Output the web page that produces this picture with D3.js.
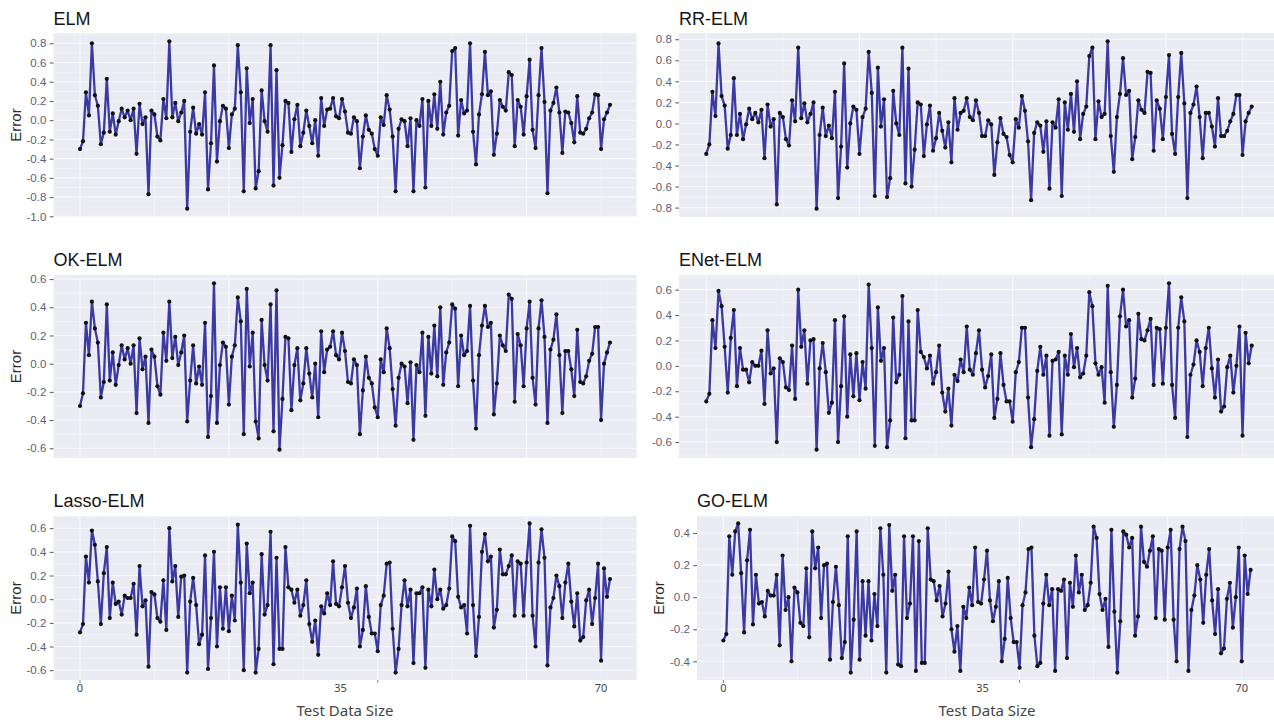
<!DOCTYPE html>
<html>
<head>
<meta charset="utf-8">
<script src="https://d3js.org/d3.v7.min.js"></script>
<style>
  body { margin: 0; background: #fff; }
  text { font-family: "Liberation Sans", Arial, sans-serif; }
</style>
</head>
<body>
<div id="my_dataviz"></div>
<script>
// one panel per model
var models = ["ELM", "RR-ELM", "OK-ELM", "ENet-ELM", "Lasso-ELM", "GO-ELM"];

// test errors (179 test samples each)
var elmErr = [
  -0.30, -0.22, 0.29, 0.05, 0.80, 0.26, 0.15, -0.25, -0.13, 0.43,
  -0.12, 0.07, -0.15, -0.01, 0.12, 0.03, 0.10, 0.00, 0.12, -0.35,
  0.17, -0.04, 0.03, -0.77, 0.10, 0.06, -0.17, -0.21, 0.22, 0.02,
  0.82, 0.03, 0.18, -0.01, 0.08, 0.20, -0.92, -0.12, 0.13, -0.14,
  -0.04, -0.15, 0.29, -0.72, -0.24, 0.57, -0.43, -0.01, 0.15, 0.12,
  -0.29, 0.06, 0.12, 0.78, 0.29, -0.74, 0.54, -0.03, 0.22, -0.71,
  -0.53, 0.31, -0.01, -0.12, 0.78, -0.68, 0.52, -0.60, -0.26, 0.20,
  0.18, -0.33, 0.01, 0.16,
  -0.27, -0.13, 0.10, -0.06, -0.24, 0.00, -0.37, 0.23, -0.06, 0.11,
  0.12, 0.23, 0.04, 0.02, 0.22, 0.09, -0.13, -0.14, 0.03, -0.01,
  -0.50, -0.17, 0.05, -0.10, -0.14, -0.30, -0.37, 0.03, -0.05, 0.26,
  0.11, -0.17, -0.74, -0.09, 0.01, -0.01, -0.27, 0.02, -0.74, 0.00,
  -0.06, 0.22, -0.70, 0.20, -0.06, 0.27, -0.09, 0.40, -0.15, 0.08,
  0.15, 0.72, 0.75, -0.16, 0.21, 0.07, 0.10, 0.80, -0.12, -0.46,
  0.06, 0.27, 0.71, 0.26, 0.30, -0.36, -0.14, 0.21, 0.14, 0.10,
  0.50, 0.47, -0.27, 0.21, 0.14, -0.15, 0.25, 0.63, -0.10, -0.29,
  0.26, 0.75, 0.19, -0.76, 0.10, 0.18, 0.34, 0.08, -0.34, 0.09,
  0.08, -0.03, -0.23, 0.25, -0.13, -0.14, -0.09, 0.02, 0.08, 0.27,
  0.26, -0.30, 0.01, 0.08, 0.16
];

var rrElmErr = [
  -0.29, -0.20, 0.30, 0.07, 0.76, 0.26, 0.17, -0.24, -0.11, 0.43,
  -0.11, 0.09, -0.15, -0.01, 0.14, 0.04, 0.10, 0.01, 0.13, -0.33,
  0.18, -0.03, 0.04, -0.77, 0.10, 0.06, -0.15, -0.21, 0.22, 0.02,
  0.72, 0.05, 0.19, 0.01, 0.09, 0.20, -0.81, -0.11, 0.15, -0.12,
  -0.02, -0.14, 0.30, -0.71, -0.22, 0.57, -0.42, 0.00, 0.16, 0.13,
  -0.29, 0.06, 0.14, 0.68, 0.29, -0.69, 0.53, -0.03, 0.23, -0.70,
  -0.52, 0.31, 0.00, -0.11, 0.72, -0.57, 0.52, -0.60, -0.25, 0.20,
  0.18, -0.31, -0.01, 0.17, -0.26, -0.14, 0.10, -0.07, -0.23, 0.01,
  -0.37, 0.24, -0.06, 0.10, 0.12, 0.24, 0.06, 0.03, 0.22, 0.10,
  -0.12, -0.12, 0.03, -0.01, -0.49, -0.18, 0.05, -0.10, -0.13, -0.30,
  -0.37, 0.04, -0.04, 0.26, 0.12, -0.17, -0.73, -0.09, 0.01, -0.02,
  -0.27, 0.02, -0.62, 0.01, -0.04, 0.23, -0.69, 0.20, -0.06, 0.28,
  -0.08, 0.40, -0.15, 0.09, 0.16, 0.64, 0.72, -0.15, 0.21, 0.06,
  0.09, 0.78, -0.12, -0.46, 0.06, 0.28, 0.62, 0.27, 0.31, -0.34,
  -0.13, 0.22, 0.13, 0.10, 0.49, 0.48, -0.26, 0.22, 0.14, -0.15,
  0.25, 0.65, -0.10, -0.29, 0.25, 0.67, 0.19, -0.71, 0.10, 0.18,
  0.35, 0.06, -0.33, 0.10, 0.10, -0.03, -0.22, 0.24, -0.12, -0.12,
  -0.07, 0.02, 0.09, 0.27, 0.27, -0.30, 0.02, 0.10, 0.16
];

var okElmErr = [
  -0.30, -0.21, 0.29, 0.06, 0.44, 0.25, 0.15, -0.24, -0.13, 0.42,
  -0.12, 0.08, -0.15, -0.01, 0.13, 0.03, 0.11, 0.00, 0.13, -0.35,
  0.18, -0.04, 0.05, -0.42, 0.10, 0.05, -0.16, -0.22, 0.22, 0.02,
  0.44, 0.04, 0.19, -0.01, 0.08, 0.20, -0.41, -0.12, 0.13, -0.14,
  -0.02, -0.15, 0.29, -0.52, -0.23, 0.57, -0.42, -0.01, 0.15, 0.12,
  -0.29, 0.05, 0.13, 0.47, 0.30, -0.50, 0.53, -0.02, 0.22, -0.41,
  -0.53, 0.31, -0.01, -0.12, 0.42, -0.48, 0.52, -0.61, -0.25, 0.19,
  0.18, -0.33, -0.01, 0.11,
  -0.26, -0.14, 0.11, -0.07, -0.24, 0.00, -0.38, 0.23, -0.06, 0.10,
  0.12, 0.23, 0.06, 0.03, 0.22, 0.09, -0.13, -0.14, 0.03, -0.01,
  -0.50, -0.19, 0.05, -0.10, -0.14, -0.31, -0.38, 0.03, -0.06, 0.25,
  0.11, -0.18, -0.44, -0.10, 0.00, -0.02, -0.28, 0.01, -0.54, -0.01,
  -0.06, 0.22, -0.37, 0.19, -0.07, 0.27, -0.09, 0.40, -0.15, 0.08,
  0.15, 0.42, 0.39, -0.16, 0.20, 0.06, 0.09, 0.41, -0.12, -0.46,
  0.06, 0.27, 0.41, 0.26, 0.29, -0.36, -0.14, 0.20, 0.13, 0.09,
  0.49, 0.46, -0.27, 0.21, 0.13, -0.16, 0.25, 0.44, -0.10, -0.29,
  0.25, 0.45, 0.19, -0.42, 0.10, 0.17, 0.35, 0.06, -0.35, 0.09,
  0.09, -0.04, -0.23, 0.24, -0.13, -0.14, -0.09, 0.02, 0.07, 0.26,
  0.26, -0.40, 0.00, 0.08, 0.15
];

var enetElmErr = [
  -0.28, -0.22, 0.36, 0.14, 0.59, 0.47, 0.15, -0.21, 0.22, 0.44,
  -0.16, 0.14, -0.03, -0.03, -0.13, 0.03, 0.00, 0.00, 0.12, -0.30,
  0.28, -0.06, -0.02, -0.60, 0.06, 0.03, -0.17, -0.19, 0.16, -0.26,
  0.60, 0.15, 0.28, -0.14, 0.20, 0.21, -0.66, -0.02, 0.18, -0.05,
  -0.37, -0.29, 0.36, -0.60, -0.16, 0.39, -0.40, 0.09, -0.24, 0.10,
  -0.27, 0.03, -0.18, 0.64, 0.14, -0.63, 0.46, 0.04, 0.14, -0.64,
  -0.43, 0.38, -0.13, -0.07, 0.55, -0.57, 0.35, -0.43, -0.43, 0.44,
  0.11, 0.07, -0.02, 0.08, -0.14, -0.05, 0.16, -0.21, -0.36, -0.18,
  -0.47, -0.07, -0.12, 0.05, -0.05, 0.31, -0.03, -0.07, 0.10, 0.28,
  -0.03, -0.17, -0.08, 0.09, -0.41, -0.26, 0.10, -0.15, -0.28, -0.28,
  -0.44, -0.05, 0.03, 0.30, 0.30, -0.25, -0.64, -0.42, -0.04, 0.15,
  -0.07, 0.08, -0.55, 0.04, 0.05, 0.11, -0.54, 0.08, -0.07, 0.25,
  -0.01, 0.14, -0.09, -0.06, 0.08, 0.58, 0.47, 0.02, -0.07, -0.01,
  -0.29, 0.63, -0.05, -0.48, -0.15, 0.39, 0.60, 0.31, 0.36, -0.25,
  -0.10, 0.41, 0.21, 0.20, 0.28, 0.37, -0.15, 0.30, 0.29, -0.14,
  0.30, 0.65, -0.15, -0.41, 0.30, 0.54, 0.35, -0.56, -0.07, 0.01,
  0.20, 0.11, -0.16, 0.14, 0.30, -0.02, -0.25, 0.05, -0.36, -0.32,
  -0.01, 0.08, -0.21, 0.00, 0.31, -0.55, 0.26, 0.02, 0.16
];

var lassoElmErr = [
  -0.28, -0.21, 0.36, 0.14, 0.58, 0.46, 0.15, -0.21, 0.22, 0.44,
  -0.16, 0.14, -0.04, -0.02, -0.13, 0.03, 0.01, 0.01, 0.13, -0.30,
  0.28, -0.06, -0.01, -0.57, 0.06, 0.04, -0.16, -0.19, 0.16, -0.26,
  0.60, 0.15, 0.28, -0.15, 0.19, 0.20, -0.62, -0.02, 0.18, -0.05,
  -0.38, -0.30, 0.37, -0.59, -0.16, 0.40, -0.40, 0.10, -0.25, 0.10,
  -0.27, 0.03, -0.18, 0.63, 0.14, -0.60, 0.47, 0.05, 0.14, -0.62,
  -0.42, 0.38, -0.13, -0.05, 0.57, -0.55, 0.35, -0.42, -0.42, 0.44,
  0.10, 0.08, -0.03, 0.08,
  -0.14, -0.05, 0.16, -0.21, -0.36, -0.18, -0.47, -0.06, -0.12, 0.05,
  -0.05, 0.32, -0.04, -0.06, 0.10, 0.28, -0.03, -0.16, -0.07, 0.09,
  -0.40, -0.26, 0.11, -0.15, -0.29, -0.29, -0.44, -0.05, 0.03, 0.30,
  0.31, -0.25, -0.62, -0.42, -0.05, 0.16, -0.06, 0.08, -0.54, 0.05,
  0.05, 0.10, -0.58, 0.08, -0.06, 0.25, 0.00, 0.08, -0.08, -0.05,
  0.09, 0.53, 0.49, 0.02, -0.07, -0.05, -0.29, 0.62, -0.05, -0.48,
  -0.15, 0.40, 0.55, 0.32, 0.36, -0.24, -0.09, 0.42, 0.21, 0.21,
  0.28, 0.37, -0.14, 0.32, 0.30, -0.14, 0.31, 0.64, -0.14, -0.40,
  0.31, 0.59, 0.35, -0.56, -0.07, 0.01, 0.20, 0.11, -0.16, 0.14,
  0.30, -0.02, -0.23, 0.05, -0.35, -0.32, -0.01, 0.08, -0.21, 0.01,
  0.30, -0.52, 0.26, 0.02, 0.17
];

var goElmErr = [
  -0.27, -0.23, 0.38, 0.14, 0.41, 0.46, 0.15, -0.22, 0.23, 0.42,
  -0.17, 0.14, -0.04, -0.03, -0.12, 0.04, 0.01, 0.01, 0.14, -0.30,
  0.26, -0.08, 0.00, -0.40, 0.06, 0.03, -0.16, -0.18, 0.18, -0.25,
  0.41, 0.18, 0.31, -0.13, 0.20, 0.21, -0.39, -0.03, 0.19, -0.05,
  -0.38, -0.28, 0.38, -0.47, -0.14, 0.41, -0.39, 0.10, -0.24, 0.10,
  -0.27, 0.02, -0.18, 0.43, 0.14, -0.47, 0.45, 0.04, 0.14, -0.42,
  -0.43, 0.38, -0.13, -0.04, 0.38, -0.46, 0.35, -0.41, -0.41, 0.43,
  0.11, 0.10, -0.02, 0.07, -0.12, -0.04, 0.16, -0.20, -0.34, -0.18,
  -0.46, -0.06, -0.13, 0.06, -0.05, 0.31, -0.03, -0.04, 0.11, 0.29,
  -0.02, -0.15, -0.06, 0.10, -0.40, -0.26, 0.12, -0.13, -0.28, -0.28,
  -0.44, -0.05, 0.03, 0.30, 0.31, -0.24, -0.43, -0.41, -0.04, 0.14,
  -0.05, 0.05, -0.46, 0.05, 0.04, 0.11, -0.38, 0.09, -0.06, 0.26,
  0.03, 0.14, -0.08, -0.05, 0.09, 0.44, 0.37, 0.02, -0.08, -0.01,
  -0.31, 0.42, -0.09, -0.47, -0.15, 0.41, 0.39, 0.31, 0.37, -0.24,
  -0.12, 0.44, 0.22, 0.19, 0.29, 0.38, -0.13, 0.30, 0.29, -0.14,
  0.31, 0.42, -0.14, -0.40, 0.30, 0.44, 0.35, -0.46, -0.08, 0.01,
  0.20, 0.11, -0.16, 0.14, 0.30, -0.02, -0.23, 0.05, -0.35, -0.32,
  -0.01, 0.09, -0.19, 0.00, 0.31, -0.40, 0.26, 0.02, 0.17
];

// axis tick labels
var yTicksElm = ["-1.0", "-0.8", "-0.6", "-0.4", "-0.2", "0.0", "0.2", "0.4", "0.6", "0.8"];
var yTicksRr = ["-0.8", "-0.6", "-0.4", "-0.2", "0.0", "0.2", "0.4", "0.6", "0.8"];
var yTicksSix = ["-0.6", "-0.4", "-0.2", "0.0", "0.2", "0.4", "0.6"];
var yTicksGo = ["-0.4", "-0.2", "0.0", "0.2", "0.4"];
var xTicks = ["0", "35", "70"];
var xGrid = [0, 10, 20, 30, 40, 50, 60, 70];
var xTickMarks = [0, 40];

// spacing of the test samples along the x axis
var xStep = 0.4;

var svg = d3.select("#my_dataviz")
  .append("svg")
  .attr("width", 1274)
  .attr("height", 722);

// panel boxes in pixels (left column has the "Error" title, as does GO-ELM)
var panels = [
  {name: models[0], values: elmErr, ticks: yTicksElm, x0: 53.5, x1: 636.5, y0: 33, y1: 217, titleY: 25, yTitle: true, xAxis: false},
  {name: models[1], values: rrElmErr, ticks: yTicksRr, x0: 679, x1: 1279, y0: 33, y1: 217, titleY: 25, yTitle: false, xAxis: false},
  {name: models[2], values: okElmErr, ticks: yTicksSix, x0: 53.5, x1: 636.5, y0: 275, y1: 458, titleY: 266, yTitle: true, xAxis: false},
  {name: models[3], values: enetElmErr, ticks: yTicksSix, x0: 679, x1: 1279, y0: 275, y1: 458, titleY: 266, yTitle: false, xAxis: false},
  {name: models[4], values: lassoElmErr, ticks: yTicksSix, x0: 53.5, x1: 636.5, y0: 516, y1: 680, titleY: 507, yTitle: true, xAxis: true},
  {name: models[5], values: goElmErr, ticks: yTicksGo, x0: 697, x1: 1277, y0: 516, y1: 680, titleY: 507, yTitle: true, xAxis: true}
];

panels.forEach(drawPanel);

function expand(ext) {
  // ggplot-like 5% padding
  var pad = (ext[1] - ext[0]) * 0.05;
  return [ext[0] - pad, ext[1] + pad];
}

function drawPanel(p) {
  var g = svg.append("g");

  var n = p.values.length;
  var x = d3.scaleLinear()
    .domain(expand([0, (n - 1) * xStep]))
    .range([p.x0, p.x1]);

  var y = d3.scaleLinear()
    .domain(expand(d3.extent(p.values)))
    .range([p.y1, p.y0]);

  // panel background
  g.append("rect")
    .attr("x", p.x0)
    .attr("y", p.y0)
    .attr("width", p.x1 - p.x0)
    .attr("height", p.y1 - p.y0)
    .attr("fill", "#ebebf4");

  // minor horizontal grid between the ticks
  var tickVals = p.ticks.map(function(t) { return +t; });
  var minor = [];
  for (var i = 0; i < tickVals.length - 1; i++) {
    minor.push((tickVals[i] + tickVals[i + 1]) / 2);
  }
  minor.push(tickVals[0] - 0.1, tickVals[tickVals.length - 1] + 0.1);
  var dom = y.domain();
  minor = minor.filter(function(v) { return v > dom[0] && v < dom[1]; });

  g.selectAll(".minor")
    .data(minor)
    .enter().append("line")
    .attr("x1", p.x0).attr("x2", p.x1)
    .attr("y1", function(d) { return y(d); })
    .attr("y2", function(d) { return y(d); })
    .attr("stroke", "#f6f6fb")
    .attr("stroke-width", 0.6);

  g.selectAll(".major")
    .data(tickVals)
    .enter().append("line")
    .attr("x1", p.x0).attr("x2", p.x1)
    .attr("y1", function(d) { return y(d); })
    .attr("y2", function(d) { return y(d); })
    .attr("stroke", "#f8f8fd")
    .attr("stroke-width", 1.1);

  g.selectAll(".vgrid")
    .data(xGrid)
    .enter().append("line")
    .attr("x1", function(d) { return x(d); })
    .attr("x2", function(d) { return x(d); })
    .attr("y1", p.y0).attr("y2", p.y1)
    .attr("stroke", "#f8f8fd")
    .attr("stroke-width", function(d) { return d % 20 == 0 ? 1.1 : 0.6; });

  // y axis: ticks and labels
  var yAxis = g.append("g")
    .attr("transform", "translate(" + p.x0 + ",0)")
    .call(d3.axisLeft(y)
      .tickValues(tickVals)
      .tickSize(3.7)
      .tickPadding(3.5)
      .tickFormat(function(d, i) { return p.ticks[i]; }));
  yAxis.select(".domain").remove();
  yAxis.selectAll(".tick line").attr("stroke", "#555");
  yAxis.selectAll(".tick text")
    .attr("fill", "#5e5e70")
    .style("font-size", "11.5px")
    .style("font-family", "'Liberation Sans', Arial, sans-serif");

  // error line and points
  var line = d3.line()
    .x(function(d, i) { return x(i * xStep); })
    .y(function(d) { return y(d); });

  g.append("path")
    .datum(p.values)
    .attr("d", line)
    .attr("fill", "none")
    .attr("stroke", "#3a3aa2")
    .attr("stroke-width", 2.3)
    .attr("stroke-linejoin", "round");

  g.selectAll(".pt")
    .data(p.values)
    .enter().append("circle")
    .attr("cx", function(d, i) { return x(i * xStep); })
    .attr("cy", function(d) { return y(d); })
    .attr("r", 2.1)
    .attr("fill", "#111");

  // title
  g.append("text")
    .attr("x", p.x0)
    .attr("y", p.titleY)
    .attr("fill", "#151515")
    .style("font-size", "18px")
    .text(p.name);

  if (p.yTitle) {
    g.append("text")
      .attr("transform", "translate(" + (p.x0 - 33) + "," + ((p.y0 + p.y1) / 2) + ") rotate(-90)")
      .attr("text-anchor", "middle")
      .attr("fill", "#2a2a2a")
      .style("font-size", "15px")
      .text("Error");
  }

  if (p.xAxis) {
    g.selectAll(".xtm")
      .data(xTickMarks)
      .enter().append("line")
      .attr("x1", function(d) { return x(d); })
      .attr("x2", function(d) { return x(d); })
      .attr("y1", p.y1).attr("y2", p.y1 + 3)
      .attr("stroke", "#666")
      .attr("stroke-width", 0.8);

    g.selectAll(".xlab")
      .data(xTicks)
      .enter().append("text")
      .attr("x", function(d) { return x(+d); })
      .attr("y", p.y1 + 12)
      .attr("text-anchor", "middle")
      .attr("fill", "#444")
      .style("font-family", "'Noto Sans', sans-serif")
      .style("font-size", "11px")
      .text(function(d) { return d; });

    g.append("text")
      .attr("x", (p.x0 + p.x1) / 2)
      .attr("y", p.y1 + 36)
      .attr("text-anchor", "middle")
      .attr("fill", "#444")
      .style("font-family", "'Noto Sans', sans-serif")
      .style("font-size", "15px")
      .text("Test Data Size");
  }
}
</script>
</body>
</html>
